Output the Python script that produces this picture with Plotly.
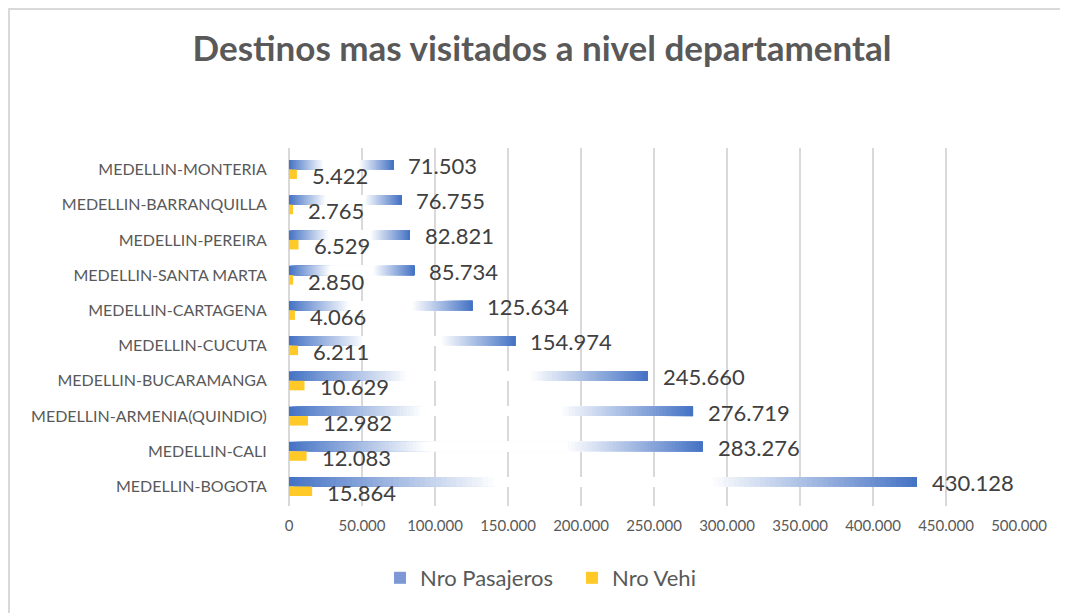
import plotly.graph_objects as go

categories = ["MEDELLIN-MONTERIA", "MEDELLIN-BARRANQUILLA", "MEDELLIN-PEREIRA",
              "MEDELLIN-SANTA MARTA", "MEDELLIN-CARTAGENA", "MEDELLIN-CUCUTA",
              "MEDELLIN-BUCARAMANGA", "MEDELLIN-ARMENIA(QUINDIO)", "MEDELLIN-CALI",
              "MEDELLIN-BOGOTA"]
pasajeros = [71503, 76755, 82821, 85734, 125634, 154974, 245660, 276719, 283276, 430128]
vehiculos = [5422, 2765, 6529, 2850, 4066, 6211, 10629, 12982, 12083, 15864]
x_ticks = [0, 50000, 100000, 150000, 200000, 250000, 300000, 350000, 400000, 450000, 500000]

FONT = "Lato"
GREY = "#595959"
BLUE = (68, 114, 196)
WHITE = (255, 255, 255)
YELLOW = "#FFCA28"


def fmt(v):
    return f"{v:,}".replace(",", ".")


def mix(c1, c2, a):
    return "rgb(%d,%d,%d)" % tuple(round(c1[i] + (c2[i] - c1[i]) * a) for i in range(3))


def grad(t):
    if t < 0.33:
        return mix(BLUE, WHITE, t / 0.33)
    if t < 0.67:
        return mix(WHITE, WHITE, 0)
    return mix(WHITE, BLUE, (t - 0.67) / 0.33)


# page has an 8px body margin: figure is offset by 8px in the window
OFF = 8
W, H = 1068 - OFF, 613 - OFF
L, R, T, B = 289 - OFF, 1068 - 1019, 148 - OFF, 613 - 506
pw, ph = W - L - R, H - T - B

N = 120
fig = go.Figure()
# legend-only entry for the gradient series
fig.add_trace(go.Bar(y=[categories[0]], x=[None], orientation="h", offsetgroup="pas",
                     name="Nro Pasajeros", marker=dict(color="rgb(125,152,212)", line=dict(width=0)),
                     legendrank=1, hoverinfo="skip"))
for i in range(N):
    t = (i + 0.5) / N
    fig.add_trace(go.Bar(
        y=categories, x=[v * (N - i) / N for v in pasajeros], base=[v * i / N for v in pasajeros],
        orientation="h", offsetgroup="pas", name="Nro Pasajeros",
        marker=dict(color=grad(t), line=dict(width=0)),
        showlegend=False, hoverinfo="skip"))

fig.add_trace(go.Bar(
    y=categories, x=vehiculos, orientation="h", offsetgroup="veh", name="Nro Vehi",
    marker=dict(color=YELLOW, line=dict(width=0)), legendrank=2, hoverinfo="skip"))

annotations = []
for c, v in zip(categories, pasajeros):
    annotations.append(dict(x=v, y=c, xref="x", yref="y", text=fmt(v), showarrow=False,
                            xanchor="left", xshift=13, yshift=4,
                            font=dict(family=FONT, size=22, color="#404040")))
for c, v in zip(categories, vehiculos):
    annotations.append(dict(x=v, y=c, xref="x", yref="y", text=fmt(v), showarrow=False,
                            xanchor="left", xshift=13, yshift=-6,
                            font=dict(family=FONT, size=22, color="#404040")))


def px_x(p):
    return (p - OFF - L) / pw


def px_y(p):
    return (H - B - (p - OFF)) / ph


shapes = [
    dict(type="line", xref="paper", yref="paper", x0=px_x(OFF), x1=px_x(1080), y0=px_y(OFF + 1), y1=px_y(OFF + 1),
         line=dict(color="#D9D9D9", width=2)),
    dict(type="line", xref="paper", yref="paper", x0=px_x(OFF + 1), x1=px_x(OFF + 1), y0=px_y(OFF), y1=px_y(630),
         line=dict(color="#D9D9D9", width=2)),
]

fig.update_layout(
    width=W, height=H, margin=dict(l=L, r=R, t=T, b=B, autoexpand=False),
    paper_bgcolor="white", plot_bgcolor="white",
    barmode="group", bargap=0.46, bargroupgap=0,
    separators=",.",
    title=dict(text="<b>Destinos mas visitados a nivel departamental</b>",
               x=(542 - OFF) / W, xref="container", xanchor="center",
               y=1 - (49 - OFF) / H, yref="container", yanchor="middle",
               font=dict(family=FONT, size=35, color=GREY)),
    xaxis=dict(range=[0, 500000], tickvals=x_ticks, tickformat=",d",
               showgrid=True, gridcolor="#D9D9D9", gridwidth=2,
               zeroline=True, zerolinecolor="#D9D9D9", zerolinewidth=2,
               showline=False, ticks="outside", ticklen=6, tickcolor="rgba(0,0,0,0)",
               tickfont=dict(family=FONT, size=15, color=GREY)),
    yaxis=dict(categoryorder="array", categoryarray=categories, autorange="reversed",
               showgrid=False, zeroline=False, showline=False,
               ticks="outside", ticklen=18, tickcolor="rgba(0,0,0,0)",
               tickfont=dict(family=FONT, size=16, color=GREY)),
    legend=dict(orientation="h", xref="container", yref="container",
                x=(572 - OFF) / W, xanchor="center", y=1 - (578 - OFF) / H, yanchor="middle",
                font=dict(family=FONT, size=22, color=GREY), itemwidth=30,
                entrywidth=147, entrywidthmode="pixels",
                traceorder="normal"),
    annotations=annotations, shapes=shapes,
)

fig.write_html("out.html")
